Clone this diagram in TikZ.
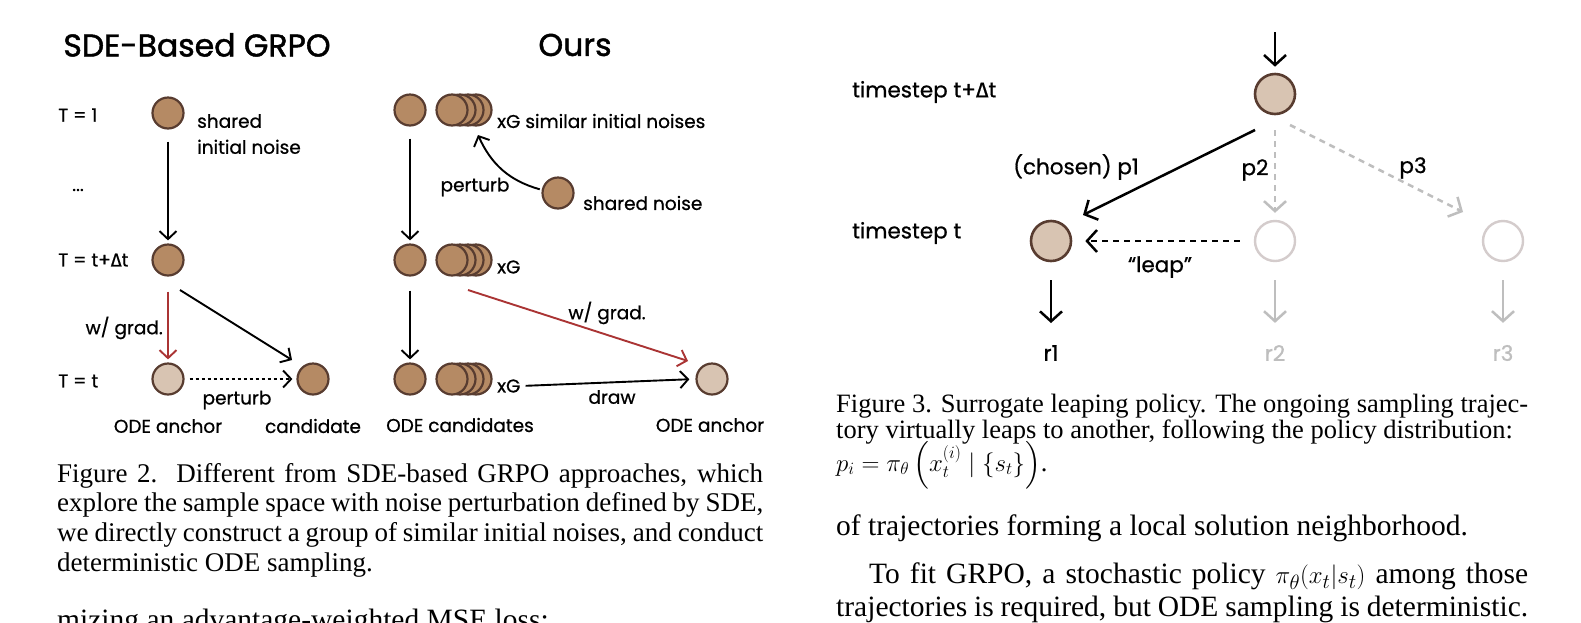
\documentclass[tikz,border=0pt]{standalone}
\usepackage{amsmath, amssymb}
\usepackage{fontspec}
\setmainfont{Liberation Serif}
\newfontfamily\sketchfont[FakeBold=0.7]{Poppins}
\newfontfamily\headfont[FakeBold=1.4]{Poppins}
\newfontfamily\greekfont[FakeBold=0.7]{Fira Sans}
\usetikzlibrary{arrows.meta, positioning, calc}

\definecolor{noisefill}{RGB}{181,138,100}
\definecolor{noiseline}{RGB}{88,60,48}
\definecolor{anchorfill}{RGB}{216,196,178}
\definecolor{gradred}{RGB}{170,52,52}
\definecolor{ghostgray}{RGB}{190,190,190}
\definecolor{ghostring}{RGB}{212,204,204}

\newcommand{\dt}{{\greekfont Δ}}

\begin{document}
\begin{tikzpicture}[x=1pt, y=-1pt,
  every node/.style={font=\sketchfont\fontsize{18.5}{22}\selectfont, inner sep=0pt},
  noisedot/.style={circle, draw=noiseline, line width=2.2pt, fill=noisefill, minimum size=31pt},
  anchordot/.style={noisedot, fill=anchorfill},
  bigdot/.style={anchordot, minimum size=40pt, line width=2.6pt},
  ghostdot/.style={circle, draw=ghostring, line width=2.4pt, minimum size=40pt},
  flow/.style={-{Straight Barb[length=8pt, width=17pt]}, line width=1.9pt},
  bigflow/.style={-{Straight Barb[length=10pt, width=22pt]}, line width=2.5pt},
  headtext/.style={font=\headfont\fontsize{31.5}{34}\selectfont},
  stepname/.style={anchor=west, font=\sketchfont\fontsize{21.5}{25}\selectfont},
  captext/.style={anchor=north west, align=justify, font=\fontsize{27}{29.6}\selectfont},
]
  \fill[white] (0,0) rectangle (1581,622);
  \useasboundingbox (0,0) rectangle (1581,622);

  % ---- left: SDE-based GRPO ----
  \node[headtext] (ttl1) at (197,45) {SDE-Based GRPO};
  \node[anchor=west] (tA) at (58,115) {T = 1};
  \node (tdots) at (78,190) {...};
  \node[anchor=west] (tB) at (58,260) {T = t+\dt t};
  \node[anchor=west] (tC) at (58,381) {T = t};

  \node[noisedot] (init) at (168,113) {};
  \node[align=left, anchor=west, font=\sketchfont\fontsize{18.5}{26}\selectfont] (initL) at (197,134) {shared\\initial noise};
  \node[noisedot] (mid) at (168,260) {};
  \node[anchordot] (odeA) at (168,379) {};
  \node[noisedot] (cand) at (313,379) {};

  \draw[flow, shorten <=12pt, shorten >=3pt] (init) -- (mid);
  \draw[flow, gradred, shorten <=15pt, shorten >=3pt] (mid) -- (odeA);
  \draw[flow] ($(mid)+(12,30)$) -- ($(cand)+(-21,-19)$);
  \draw[flow, dash pattern=on 3pt off 3pt, shorten <=5pt, shorten >=4pt] (odeA) -- (cand);

  \node[anchor=east] (gradL) at (163,328) {w/ grad.};
  \node (pertL) at (237,400) {perturb};
  \node (odeAL) at (168,426) {ODE anchor};
  \node (candL) at (313,426) {candidate};

  % ---- left: ours ----
  \node[headtext] (ttl2) at (575,45) {Ours};
  \foreach \r/\yy in {1/110, 2/260, 3/379} {
    \node[noisedot] (g\r) at (410,\yy) {};
    \foreach \k in {4,3,2,1}
      \node[noisedot] (s\r-\k) at ({452+8*(\k-1)},\yy) {};
  }
  \node[anchor=west] (xg1) at (497,121) {xG similar initial noises};
  \node[anchor=west] (xg2) at (497,267) {xG};
  \node[anchor=west] (xg3) at (497,386) {xG};

  \node[noisedot] (shn) at (558,193) {};
  \node[anchor=west] (shnL) at (583,203) {shared noise};
  \draw[flow, shorten <=2pt] (shn) to[bend left=25] ($(s1-4)+(2,25)$);
  \node (pertL2) at (475,187) {perturb};

  \node[anchordot] (fin) at (712,379) {};
  \draw[flow, shorten <=12pt, shorten >=3pt] (g1) -- (g2);
  \draw[flow, shorten <=14pt, shorten >=3pt] (g2) -- (g3);
  \draw[flow, gradred] ($(s2-3)+(0,30)$) -- ($(fin)+(-24,-18)$);
  \draw[flow, shorten <=5pt, shorten >=6pt] (xg3.east) -- (fin.west);

  \node (wgL2) at (607,313) {w/ grad.};
  \node (drawL) at (612,397) {draw};
  \node (candsL) at (460,425) {ODE candidates};
  \node (finL) at (710,425) {ODE anchor};

  % ---- right: leaping policy ----
  \node[stepname] (tsA) at (852,92) {timestep t+\dt t};
  \node[stepname] (tsB) at (852,233) {timestep t};

  \coordinate (src) at (1275,32);
  \node[bigdot] (top) at (1275,94) {};
  \node[bigdot] (pick) at (1051,241) {};
  \node[ghostdot] (alt2) at (1275,241) {};
  \node[ghostdot] (alt3) at (1503,241) {};

  \draw[bigflow, shorten >=6pt] (src) -- (top);
  \draw[bigflow] ($(top)+(-20,36)$) -- ($(pick)+(32,-26)$);
  \draw[bigflow, ghostgray, dash pattern=on 6pt off 5pt, shorten <=15pt, shorten >=7pt] (top) -- (alt2);
  \draw[bigflow, ghostgray, dash pattern=on 6pt off 5pt] ($(top)+(15,31)$) -- ($(alt3)+(-40,-29)$);
  \draw[bigflow, dash pattern=on 6pt off 5pt, shorten <=14pt, shorten >=13pt] (alt2) -- (pick);

  \node[stepname, anchor=center] (p1L) at (1076,167) {(chosen) p1};
  \node[stepname, anchor=center] (p2L) at (1255,170) {p2};
  \node[stepname, anchor=center] (p3L) at (1413,168) {p3};
  \node[stepname, anchor=center] (leapL) at (1160,267) {“leap”};

  \node[stepname, anchor=center] (r1) at (1051,353) {r1};
  \node[stepname, anchor=center, text=ghostgray] (r2) at (1275,353) {r2};
  \node[stepname, anchor=center, text=ghostgray] (r3) at (1503,353) {r3};
  \draw[bigflow, shorten <=18pt, shorten >=22pt] (pick) -- (r1);
  \draw[bigflow, ghostgray, shorten <=18pt, shorten >=22pt] (alt2) -- (r2);
  \draw[bigflow, ghostgray, shorten <=18pt, shorten >=22pt] (alt3) -- (r3);

  % ---- captions and text ----
  \node[captext, text width=706pt] (cap2) at (57,463)
    {Figure 2.\ \ Different from SDE-based GRPO approaches, which\linebreak
     explore the sample space with noise perturbation defined by SDE,\linebreak
     we directly construct a group of similar initial noises, and conduct\linebreak
     deterministic ODE sampling.};
  \node[captext, text width=706pt, font=\fontsize{29.5}{32}\selectfont] (body1) at (57,609)
    {mizing an advantage-weighted MSE loss:};

  \node[captext, text width=692pt, font=\fontsize{26.5}{25.5}\selectfont] (cap3) at (836,394)
    {\parfillskip=0pt Figure 3. Surrogate leaping policy. The ongoing sampling trajec-\linebreak
     tory virtually leaps to another, following the policy distribution:};
  \node[anchor=base west, font=\fontsize{26.5}{25}\selectfont] (cap3f) at (836,471)
    {$p_i = \pi_\theta\left(x_t^{(i)} \mid \{s_t\}\right)$.};
  \node[captext, text width=692pt, font=\fontsize{29.5}{33}\selectfont] (body2) at (836,515)
    {of trajectories forming a local solution neighborhood.};
  \node[captext, text width=692pt, font=\fontsize{29.5}{33}\selectfont] (body3) at (836,563)
    {\parfillskip=0pt\hspace*{33pt}To fit GRPO, a stochastic policy $\pi_\theta(x_t|s_t)$ among those\linebreak
     trajectories is required, but ODE sampling is deterministic.};
\end{tikzpicture}
\end{document}
